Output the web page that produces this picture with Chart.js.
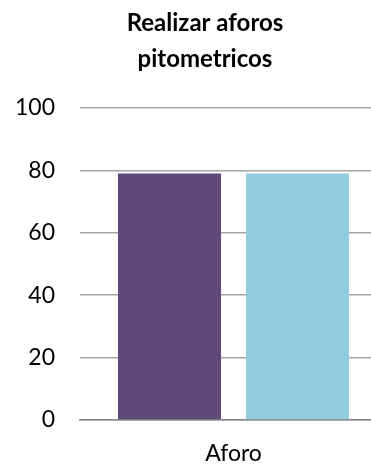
<!DOCTYPE html>
<html>
<head>
<meta charset="utf-8">
<script src="https://cdn.jsdelivr.net/npm/chart.js@4/dist/chart.umd.min.js"></script>
<style>
html,body{margin:0;padding:0;background:#fff;overflow:hidden;}
#wrap{width:371px;height:466px;position:relative;overflow:hidden;}
canvas{display:block;}
</style>
</head>
<body>
<div id="wrap"><canvas id="c" width="387" height="466"></canvas></div>
<script>
const categories = ['Aforo'];
const seriesA = [79];
const seriesB = [79];
const yTicks = [0, 20, 40, 60, 80, 100];
const titleLines = ['Realizar aforos', 'pitometricos'];

const FONT = "Lato, 'Open Sans', sans-serif";

const titlePlugin = {
  id: 'customTitle',
  afterDraw(chart) {
    const ctx = chart.ctx;
    ctx.save();
    ctx.fillStyle = '#000';
    ctx.font = "bold 24px " + FONT;
    ctx.textAlign = 'center';
    ctx.textBaseline = 'alphabetic';
    const cx = 205;
    titleLines.forEach((t, i) => ctx.fillText(t, cx, 31 + i * 36));
    ctx.restore();
  }
};

new Chart(document.getElementById('c'), {
  type: 'bar',
  data: {
    labels: categories,
    datasets: [
      { label: 'Serie 1', data: seriesA, backgroundColor: '#604A7B', borderWidth: 0 },
      { label: 'Serie 2', data: seriesB, backgroundColor: '#93CDDD', borderWidth: 0 }
    ]
  },
  plugins: [titlePlugin],
  options: {
    responsive: false,
    animation: false,
    layout: { padding: { left: 15, right: 0, top: 108, bottom: 0 } },
    datasets: { bar: { categoryPercentage: 0.834, barPercentage: 0.805 } },
    plugins: {
      legend: { display: false },
      tooltip: { enabled: false },
      title: { display: false }
    },
    scales: {
      x: {
        afterFit: (s) => { s.height = 46; },
        grid: { display: false, drawTicks: false },
        border: { display: true, color: '#868686', width: 1.5 },
        ticks: { color: '#000', font: { family: FONT, size: 23, lineHeight: 1.0 }, padding: 22 }
      },
      y: {
        min: 0, max: 100,
        afterFit: (s) => { s.width = 65; },
        afterBuildTicks: (s) => { s.ticks = yTicks.map(v => ({ value: v })); },
        grid: { color: '#A6A6A6', lineWidth: 1.5, drawTicks: false },
        border: { display: false },
        ticks: { color: '#000', font: { family: FONT, size: 23 }, padding: 25 }
      }
    }
  }
});
</script>
</body>
</html>
